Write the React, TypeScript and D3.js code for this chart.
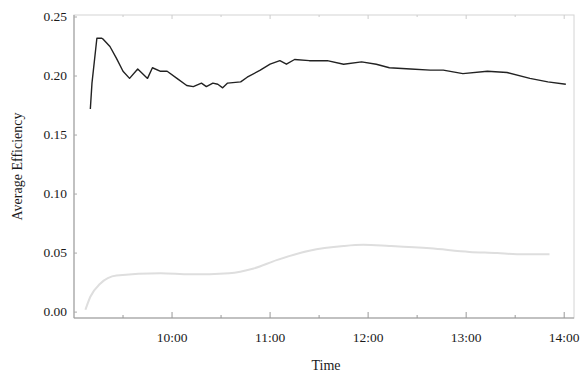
import * as d3 from 'd3';
import { useEffect, useRef } from 'react';

// average efficiency over the day, two series
const blackTimes = ['9:10', '9:11', '9:14', '9:17', '9:18', '9:22', '9:26', '9:30', '9:34', '9:39', '9:45', '9:48', '9:53', '9:57', '10:03', '10:09', '10:13', '10:18', '10:21', '10:25', '10:28', '10:31', '10:34', '10:42', '10:46', '10:54', '11:00', '11:06', '11:10', '11:15', '11:24', '11:35', '11:45', '11:56', '12:05', '12:13', '12:26', '12:38', '12:46', '12:58', '13:13', '13:25', '13:39', '13:50', '14:01'];
const blackValues = [0.172, 0.194, 0.232, 0.232, 0.231, 0.225, 0.215, 0.204, 0.198, 0.206, 0.198, 0.207, 0.204, 0.204, 0.198, 0.192, 0.191, 0.194, 0.191, 0.194, 0.193, 0.19, 0.194, 0.195, 0.199, 0.205, 0.21, 0.213, 0.21, 0.214, 0.213, 0.213, 0.21, 0.212, 0.21, 0.207, 0.206, 0.205, 0.205, 0.202, 0.204, 0.203, 0.198, 0.195, 0.193];

const grayTimes = ['9:07', '9:10', '9:16', '9:26', '9:53', '10:11', '10:35', '10:50', '11:04', '11:24', '11:45', '11:57', '12:13', '12:38', '13:02', '13:19', '13:31', '13:51'];
const grayValues = [0.002, 0.013, 0.024, 0.031, 0.033, 0.032, 0.033, 0.037, 0.044, 0.052, 0.056, 0.057, 0.056, 0.054, 0.051, 0.05, 0.049, 0.049];

const yTicks = [0, 0.05, 0.1, 0.15, 0.2, 0.25];
const xTickLabels = ['10:00', '11:00', '12:00', '13:00', '14:00'];

const parse = (s: string) => {
  const [h, m] = s.split(':').map(Number);
  return new Date(2000, 0, 1, h, m);
};

export default function App() {
  const ref = useRef<SVGSVGElement>(null);

  useEffect(() => {
    const width = 584;
    const height = 377;
    const m = { left: 74, right: 10, top: 15, bottom: 59 };

    const svg = d3.select(ref.current);
    svg.selectAll('*').remove();

    const x = d3
      .scaleTime()
      .domain([parse('9:00'), parse('14:06')])
      .range([m.left, width - m.right]);
    const y = d3
      .scaleLinear()
      .domain([-0.005, 0.25])
      .range([height - m.bottom, m.top + 2]);

    const font = '"Liberation Serif", "Times New Roman", serif';

    /* ---------- FRAME ---------- */
    svg.append('rect')
      .attr('x', m.left).attr('y', m.top)
      .attr('width', width - m.left - m.right)
      .attr('height', height - m.top - m.bottom)
      .attr('fill', 'none').attr('stroke', '#d4d4d4');

    const bottom = height - m.bottom;
    svg.append('line')
      .attr('x1', m.left).attr('x2', width - m.right)
      .attr('y1', bottom).attr('y2', bottom)
      .attr('stroke', '#999');
    svg.append('line')
      .attr('x1', m.left).attr('x2', m.left)
      .attr('y1', m.top).attr('y2', bottom)
      .attr('stroke', '#999');

    /* ---------- X TICKS ---------- */
    const minor = d3.timeMinute.every(30)!.range(parse('9:30'), parse('14:05'));
    svg.selectAll('.xminor')
      .data(minor)
      .enter()
      .append('line')
      .attr('x1', d => x(d)).attr('x2', d => x(d))
      .attr('y1', bottom).attr('y2', d => bottom - (d.getMinutes() === 0 ? 6 : 3))
      .attr('stroke', '#999');
    svg.selectAll('.xminorTop')
      .data(minor)
      .enter()
      .append('line')
      .attr('x1', d => x(d)).attr('x2', d => x(d))
      .attr('y1', m.top).attr('y2', d => m.top + (d.getMinutes() === 0 ? 4 : 2))
      .attr('stroke', '#ccc');

    svg.selectAll('.xlabel')
      .data(xTickLabels)
      .enter()
      .append('text')
      .attr('x', d => x(parse(d)))
      .attr('y', 342)
      .attr('text-anchor', 'middle')
      .style('font-family', font)
      .style('font-size', '13.5px')
      .attr('fill', '#1a1a1a')
      .text(d => d);

    /* ---------- Y TICKS ---------- */
    svg.selectAll('.ylabel')
      .data(yTicks)
      .enter()
      .append('text')
      .attr('x', m.left - 7)
      .attr('y', d => y(d) + 4)
      .attr('text-anchor', 'end')
      .style('font-family', font)
      .style('font-size', '13.5px')
      .attr('fill', '#1a1a1a')
      .text(d => d.toFixed(2));

    svg.selectAll('.ytick')
      .data(yTicks)
      .enter()
      .append('line')
      .attr('x1', m.left).attr('x2', m.left + 3)
      .attr('y1', d => y(d)).attr('y2', d => y(d))
      .attr('stroke', '#aaa');

    /* ---------- AXIS TITLES ---------- */
    svg.append('text')
      .attr('x', (m.left + width - m.right) / 2 + 2)
      .attr('y', 370)
      .attr('text-anchor', 'middle')
      .style('font-family', font)
      .style('font-size', '14px')
      .attr('fill', '#1a1a1a')
      .text('Time');

    svg.append('text')
      .attr('transform', `translate(22,${(m.top + bottom) / 2}) rotate(-90)`)
      .attr('text-anchor', 'middle')
      .style('font-family', font)
      .style('font-size', '14px')
      .attr('fill', '#1a1a1a')
      .text('Average Efficiency');

    /* ---------- LINES ---------- */
    const line = d3
      .line<[Date, number]>()
      .x(d => x(d[0]))
      .y(d => y(d[1]))
      .curve(d3.curveMonotoneX);

    const gray = grayTimes.map((t, i) => [parse(t), grayValues[i]] as [Date, number]);
    svg.append('path')
      .attr('d', line(gray))
      .attr('fill', 'none')
      .attr('stroke', '#dedede')
      .attr('stroke-width', 2);

    const black = blackTimes.map((t, i) => [parse(t), blackValues[i]] as [Date, number]);
    svg.append('path')
      .attr('d', line.curve(d3.curveLinear)(black))
      .attr('fill', 'none')
      .attr('stroke', '#222')
      .attr('stroke-width', 1.4)
      .attr('stroke-linejoin', 'round');
  }, []);

  return (
    <div style={{ position: 'absolute', left: 0, top: 0 }}>
      <svg ref={ref} width={584} height={377} style={{ display: 'block', background: '#fff' }} />
    </div>
  );
}
